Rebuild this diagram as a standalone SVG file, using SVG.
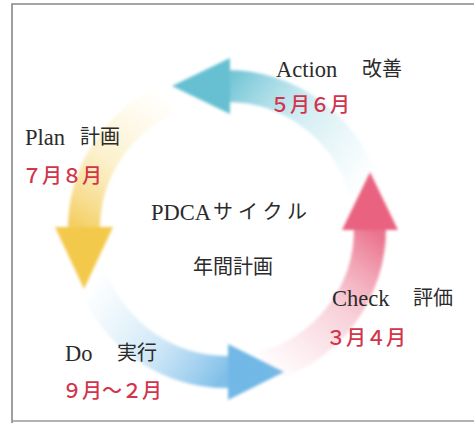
<svg xmlns="http://www.w3.org/2000/svg" width="474" height="423" viewBox="0 0 474 423">
  <defs>
    <style>
      .en { font-family: "Liberation Serif", "Noto Sans CJK JP", serif; font-size: 22.5px; fill: #2b2b2b; }
      .ja { font-family: "Noto Sans CJK JP", sans-serif; font-size: 20px; fill: #2b2b2b; }
      .mo { font-family: "Noto Sans CJK JP", sans-serif; font-size: 20px; font-weight: 500; fill: #d2344b; }
      .band { fill: none; stroke-width: 32; stroke-linecap: butt; }
    </style>
    <filter id="soft" x="-20%" y="-20%" width="140%" height="140%">
      <feGaussianBlur stdDeviation="1.8"/>
    </filter>
    <linearGradient id="gPlan" gradientUnits="userSpaceOnUse" x1="170" y1="96" x2="84" y2="229">
      <stop offset="0" stop-color="#fbe7a0" stop-opacity="0"/>
      <stop offset="0.55" stop-color="#f8df8e" stop-opacity="0.45"/>
      <stop offset="1" stop-color="#f3ca55" stop-opacity="0.9"/>
    </linearGradient>
    <linearGradient id="gCheck" gradientUnits="userSpaceOnUse" x1="262" y1="370" x2="370" y2="229">
      <stop offset="0" stop-color="#f3a6b6" stop-opacity="0"/>
      <stop offset="0.55" stop-color="#ef94a8" stop-opacity="0.45"/>
      <stop offset="1" stop-color="#e96582" stop-opacity="0.9"/>
    </linearGradient>
    <linearGradient id="gAction" gradientUnits="userSpaceOnUse" x1="366" y1="190" x2="227" y2="86">
      <stop offset="0" stop-color="#a9dde8" stop-opacity="0"/>
      <stop offset="0.55" stop-color="#92d3e1" stop-opacity="0.4"/>
      <stop offset="1" stop-color="#66c0d2" stop-opacity="0.9"/>
    </linearGradient>
    <linearGradient id="gDo" gradientUnits="userSpaceOnUse" x1="92" y1="278" x2="227" y2="372">
      <stop offset="0" stop-color="#b5dbf3" stop-opacity="0"/>
      <stop offset="0.55" stop-color="#9acdee" stop-opacity="0.45"/>
      <stop offset="1" stop-color="#72b8e6" stop-opacity="0.9"/>
    </linearGradient>
  </defs>

  <rect x="0" y="0" width="474" height="423" fill="#ffffff"/>
  <path d="M12 430 L12 4 L480 4" fill="none" stroke="#888888" stroke-width="1.6"/>
  <path d="M12 421 L480 421" fill="none" stroke="#999999" stroke-width="1.6"/>

  <g id="connectors" filter="url(#soft)">
    <g id="arrow-plan">
      <path class="band" d="M166.6 99.4 A143 143 0 0 0 84 231" stroke="url(#gPlan)"/>
      <polygon points="55,227 113,227 84,289" fill="#f3c94c"/>
    </g>
    <g id="arrow-do">
      <path class="band" d="M92.6 277.9 A143 143 0 0 0 229 372" stroke="url(#gDo)"/>
      <polygon points="228,344 228,400 284,372" fill="#72b8e6"/>
    </g>
    <g id="arrow-check">
      <path class="band" d="M264 367.1 A143 143 0 0 0 370 227" stroke="url(#gCheck)"/>
      <polygon points="342,230 398,230 370,172" fill="#e9627f"/>
    </g>
    <g id="arrow-action">
      <path class="band" d="M365.1 192 A143 143 0 0 0 225 86" stroke="url(#gAction)"/>
      <polygon points="230,58 230,114 172,86" fill="#66c0d2"/>
    </g>
  </g>

  <g id="action">
    <text class="en" x="276" y="77">Action</text>
    <text class="ja" x="362" y="76">改善</text>
    <text class="mo" x="270" y="112">５月６月</text>
  </g>
  <g id="plan">
    <text class="en" x="25" y="145">Plan</text>
    <text class="ja" x="80" y="144">計画</text>
    <text class="mo" x="22" y="183">７月８月</text>
  </g>
  <g id="center">
    <text class="en" x="151" y="220">PDCA</text>
    <text class="ja" x="213" y="219" letter-spacing="5">サイクル</text>
    <text class="ja" x="193" y="274">年間計画</text>
  </g>
  <g id="check">
    <text class="en" x="332" y="306">Check</text>
    <text class="ja" x="413" y="305">評価</text>
    <text class="mo" x="326" y="345">３月４月</text>
  </g>
  <g id="do">
    <text class="en" x="65" y="361">Do</text>
    <text class="ja" x="117" y="360">実行</text>
    <text class="mo" x="62" y="398">９月～２月</text>
  </g>
</svg>
